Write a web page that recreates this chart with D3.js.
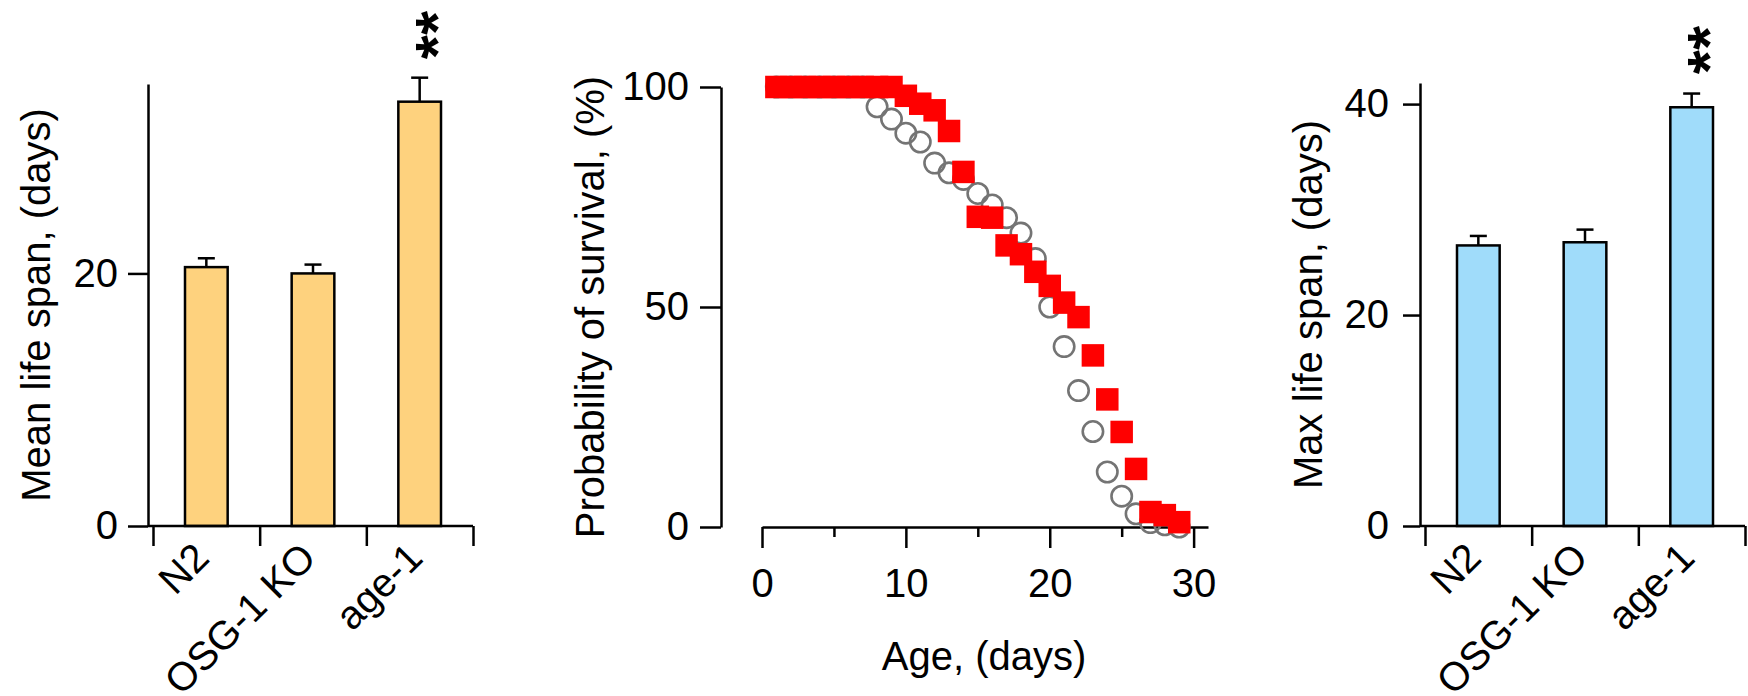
<!DOCTYPE html>
<html>
<head>
<meta charset="utf-8">
<script src="https://cdn.jsdelivr.net/npm/d3@7"></script>
<style>
  body { margin: 0; background: #fff; }
  svg { display: block; font-family: "Liberation Sans", Arial, sans-serif; }
</style>
</head>
<body>
<svg></svg>
<script>
// data
let categories = ["N2", "OSG-1 KO", "age-1"];
let meanLife = [20.5, 20.0, 33.6];
let meanErr = [0.7, 0.7, 1.9];
let maxLife = [26.6, 26.9, 39.7];
let maxErr = [0.9, 1.2, 1.3];
let meanTicks = [0, 20];
let maxTicks = [0, 20, 40];

let days = [1, 2, 3, 4, 5, 6, 7, 8, 9, 10, 11, 12, 13, 14, 15, 16, 17, 18, 19, 20, 21, 22, 23, 24, 25, 26, 27, 28, 29];
// open grey circles
let openSurvival = [100, 100, 100, 100, 100, 100, 100, 95.5, 92.7, 89.5, 87.5, 82.7, 80.5, 79, 75.8, 73.2, 70.3, 66.8, 61, 50, 41, 31, 21.7, 12.5, 7, 3, 1, 0.5, 0];
// filled red squares
let filledSurvival = [100, 100, 100, 100, 100, 100, 100, 100, 100, 98, 96.2, 94.7, 90, 80.7, 70.5, 70.3, 64, 62, 58, 54.8, 51, 47.7, 39, 29, 21.6, 13.2, 3.4, 2.7, 1.1];
let survTicks = [0, 50, 100];
let ageTicks = [0, 10, 20, 30];
let ageMinor = [5, 15, 25];

let w = 1748;
let h = 696;
let font = 40;
let lw = 2.5;
let svg = d3.select("svg").attr("width", w).attr("height", h);

let styleAxis = (g) => {
  g.selectAll("path, line").attr("stroke", "#000").attr("stroke-width", lw);
  g.selectAll("text")
    .attr("fill", "#000")
    .style("font-size", font + "px")
    .style("font-family", '"Liberation Sans", Arial, sans-serif');
};

let drawBarPanel = (p) => {
  let y = d3.scaleLinear().domain([0, p.yMax]).range([p.base, p.top]);
  let xb = d3.scaleLinear().domain([0, 3]).range([p.x0, p.x1]);
  let band = d3
    .scaleBand()
    .domain(categories)
    .range([p.x0, p.x1])
    .paddingInner(0.6)
    .paddingOuter(0.3);

  // bars
  svg
    .append("g")
    .selectAll("rect")
    .data(categories)
    .enter()
    .append("rect")
    .attr("x", (d) => band(d))
    .attr("width", band.bandwidth())
    .attr("y", (d, i) => y(p.values[i]))
    .attr("height", (d, i) => p.base - y(p.values[i]))
    .attr("fill", p.fill)
    .attr("stroke", "#000")
    .attr("stroke-width", lw);

  // error bars
  let eb = svg.append("g").attr("stroke", "#000").attr("stroke-width", lw);
  categories.forEach((c, i) => {
    let cx = band(c) + band.bandwidth() / 2;
    let yt = y(p.values[i] + p.errs[i]);
    eb.append("line").attr("x1", cx).attr("x2", cx).attr("y1", y(p.values[i])).attr("y2", yt);
    eb.append("line").attr("x1", cx - 8.5).attr("x2", cx + 8.5).attr("y1", yt).attr("y2", yt);
  });

  // y axis
  svg
    .append("g")
    .attr("transform", `translate(${p.ax},0)`)
    .call(d3.axisLeft(y).tickValues(p.ticks).tickSize(p.tickLen).tickPadding(p.pad).tickSizeOuter(0))
    .call(styleAxis);

  // x axis: ticks sit between categories
  let xg = svg
    .append("g")
    .attr("transform", `translate(0,${p.base})`)
    .call(d3.axisBottom(xb).tickValues([0, 1, 2, 3]).tickSize(20).tickFormat("").tickSizeOuter(0))
    .call(styleAxis);
  xg.select(".domain").attr("d", `M${p.ax},0H${p.x1}`);

  // category labels
  svg
    .append("g")
    .selectAll("text")
    .data(categories)
    .enter()
    .append("text")
    .attr("transform", (d) => `translate(${band(d) + band.bandwidth() / 2 + 5},${p.base + 34}) rotate(-45)`)
    .attr("text-anchor", "end")
    .style("font-size", font + "px")
    .text((d) => d);

  // y title
  svg
    .append("text")
    .attr("transform", `translate(${p.titleX},${(p.base + p.top) / 2}) rotate(-90)`)
    .attr("text-anchor", "middle")
    .style("font-size", font + "px")
    .text(p.title);

  // significance stars over the last bar
  let last = categories[categories.length - 1];
  let sx = band(last) + band.bandwidth() / 2 + 3;
  svg
    .append("text")
    .attr("transform", `translate(${sx + 0.565 * 62},${p.starY}) rotate(-90)`)
    .attr("text-anchor", "middle")
    .style("font-size", "62px")
    .style("font-weight", "bold")
    .text("**");
};

let drawSurvival = () => {
  let ax = 721;
  let x = d3.scaleLinear().domain([0, 31]).range([762, 1208]);
  let y = d3.scaleLinear().domain([0, 100]).range([527, 87]);

  svg
    .append("g")
    .attr("transform", `translate(${ax},0)`)
    .call(d3.axisLeft(y).tickValues(survTicks).tickSize(21).tickPadding(11).tickSizeOuter(0))
    .call(styleAxis);

  svg
    .append("g")
    .attr("transform", `translate(0,${y(0)})`)
    .call(d3.axisBottom(x).tickValues(ageTicks).tickSize(21).tickPadding(21).tickSizeOuter(0))
    .call(styleAxis);

  svg
    .append("g")
    .attr("transform", `translate(0,${y(0)})`)
    .call(d3.axisBottom(x).tickValues(ageMinor).tickSize(10).tickFormat(""))
    .call(styleAxis)
    .select(".domain")
    .remove();

  // open circles underneath
  svg
    .append("g")
    .selectAll("circle")
    .data(days)
    .enter()
    .append("circle")
    .attr("cx", (d) => x(d))
    .attr("cy", (d, i) => y(openSurvival[i]))
    .attr("r", 10.2)
    .attr("fill", "none")
    .attr("stroke", "#747474")
    .attr("stroke-width", 2.6);

  // red squares on top
  let s = 22.5;
  svg
    .append("g")
    .selectAll("rect")
    .data(days)
    .enter()
    .append("rect")
    .attr("x", (d) => x(d) - s / 2)
    .attr("y", (d, i) => y(filledSurvival[i]) - s / 2)
    .attr("width", s)
    .attr("height", s)
    .attr("fill", "#ff0000");

  svg
    .append("text")
    .attr("x", 984)
    .attr("y", 670)
    .attr("text-anchor", "middle")
    .style("font-size", font + "px")
    .text("Age, (days)");

  svg
    .append("text")
    .attr("transform", `translate(604,${(y(0) + y(100)) / 2}) rotate(-90)`)
    .attr("text-anchor", "middle")
    .style("font-size", font + "px")
    .text("Probability of survival, (%)");
};

drawBarPanel({
  ax: 148, x0: 153, x1: 473, top: 84, base: 526, yMax: 35,
  ticks: meanTicks, values: meanLife, errs: meanErr,
  fill: "#fed27e", title: "Mean life span, (days)",
  titleX: 50, tickLen: 20, pad: 10, starY: 35
});
drawSurvival();
drawBarPanel({
  ax: 1420, x0: 1425, x1: 1745, top: 83, base: 526, yMax: 42,
  ticks: maxTicks, values: maxLife, errs: maxErr,
  fill: "#a0dcfa", title: "Max life span, (days)",
  titleX: 1322, tickLen: 17, pad: 14, starY: 50
});
</script>
</body>
</html>
